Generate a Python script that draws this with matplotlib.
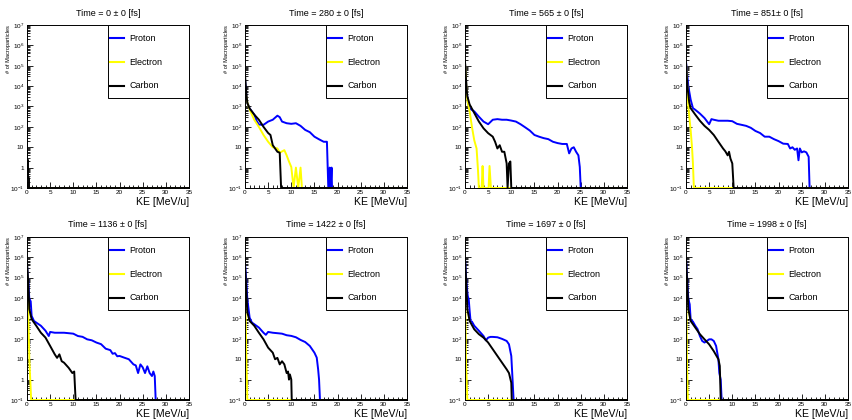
import numpy as np
import matplotlib.pyplot as plt
from matplotlib.ticker import FixedLocator, MultipleLocator, LogLocator, NullFormatter

# ROOT style look: Helvetica-like font
plt.rcParams['font.family'] = 'Liberation Sans'
plt.rcParams['mathtext.fontset'] = 'custom'
plt.rcParams['mathtext.rm'] = 'Liberation Sans'
plt.rcParams['mathtext.it'] = 'Liberation Sans:italic'

times = ['0 ± 0', '280 ± 0', '565 ± 0', '851± 0', '1136 ± 0', '1422 ± 0', '1697 ± 0', '1998 ± 0']
species = ['Proton', 'Electron', 'Carbon']
colors = ['#0000ff', '#ffff00', '#000000']

xticks = [0, 5, 10, 15, 20, 25, 30, 35]
yticks = [0.1, 1, 10, 1e2, 1e3, 1e4, 1e5, 1e6, 1e7]
ytick_labels = [r'$10^{-1}$', '1', '10', r'$10^{2}$', r'$10^{3}$', r'$10^{4}$',
                r'$10^{5}$', r'$10^{6}$', r'$10^{7}$']

# (KE [MeV/u], number of macroparticles); 0.1 = empty bin (drawn on the axis)
proton_0 = [(0, 0.1), (35, 0.1)]
electron_0 = [(0, 0.1), (35, 0.1)]
carbon_0 = [(0, 2500), (0.1, 2500), (0.1, 2.5), (0.25, 2.5), (0.25, 0.3), (0.5, 0.3), (0.5, 0.1), (35, 0.1)]

proton_280 = [(0, 2e4), (0.3, 3000), (0.5, 1500), (1, 800), (2, 400), (2.5, 200), (3, 130), (4, 126),
              (5, 182), (6, 224), (7, 355), (7.5, 300), (8, 182), (9, 151), (10, 141), (11, 151),
              (12, 112), (13, 71), (14, 55), (15, 33), (16, 24.5), (17, 18.6), (17.7, 18.6),
              (18.0, 0.1), (18.3, 1), (18.5, 0.1), (18.7, 1), (18.8, 0.1), (35, 0.1)]
electron_280 = [(0, 8000), (0.5, 1600), (1, 710), (2, 224), (3, 100), (4, 40), (5, 18.6), (6, 10),
                (7, 8.7), (7.5, 5.4), (8.5, 7.2), (9, 4), (9.5, 2), (10, 1.07), (10.5, 0.1), (11, 1),
                (11.5, 0.1), (12, 1), (12.3, 0.1), (35, 0.1)]
carbon_280 = [(0, 3.7e4), (0.3, 4000), (0.5, 1500), (1, 800), (2, 400), (3, 224), (4, 100), (5, 50),
              (5.5, 40), (6, 12.6), (6.5, 8.7), (7, 6), (7.5, 5.4), (7.8, 0.1), (35, 0.1)]

proton_565 = [(0, 1.4e5), (0.3, 1e4), (0.6, 1600), (1, 800), (2, 575), (3, 316), (4, 182), (5, 135),
              (6, 224), (7, 240), (8, 224), (9, 224), (10, 204), (11, 182), (12, 135), (13, 95),
              (14, 66), (15, 40), (16, 33), (17, 28), (18, 25), (19, 18.6), (20, 16), (21, 14.5),
              (22, 14.5), (22.5, 5), (23, 8.7), (23.5, 10), (24, 6), (24.5, 4), (24.8, 1.07),
              (25, 0.1), (35, 0.1)]
electron_565 = [(0, 1.4e5), (0.3, 1e4), (0.5, 2000), (1, 575), (1.5, 100), (2, 22), (2.5, 8.7),
                (2.8, 0.8), (3, 0.1), (3.6, 0.1), (3.8, 1.2), (4, 0.1), (5.1, 0.1), (5.3, 1.2),
                (5.6, 0.1), (35, 0.1)]
carbon_565 = [(0, 1.6e5), (0.3, 1e4), (0.5, 3200), (1, 1260), (2, 480), (3, 182), (4, 85), (5, 49),
              (6, 33), (6.5, 18.6), (7, 8.7), (7.5, 12.6), (8, 6), (8.5, 6), (9, 1.6), (9.2, 0.1),
              (9.5, 1.6), (9.8, 2), (10, 0.1), (35, 0.1)]

proton_851 = [(0, 1.6e5), (0.5, 1e4), (1, 2200), (1.5, 830), (2, 690), (3, 450), (4, 270), (5, 135),
              (5.5, 240), (6, 224), (7, 200), (8, 200), (9, 200), (10, 190), (11, 141), (12, 126),
              (13, 112), (14, 90), (15, 63), (16, 50), (17, 33), (18, 33), (19, 25), (20, 20),
              (21, 15), (22, 14.5), (22.5, 8.7), (23, 10), (23.5, 7.5), (24, 8.7), (24.3, 2.3),
              (24.6, 8.7), (25, 5.6), (25.5, 6.3), (26, 5.6), (26.5, 3.4), (26.7, 0.1), (35, 0.1)]
electron_851 = [(0, 1.4e5), (0.3, 8000), (0.5, 1000), (1, 71), (1.3, 10), (1.5, 1.6), (1.7, 0.1), (35, 0.1)]
carbon_851 = [(0, 1.4e5), (0.3, 1e4), (0.7, 1600), (1, 830), (2, 400), (3, 200), (4, 112), (5, 71),
              (6, 40), (7, 18.6), (8, 8.7), (8.5, 6.3), (9, 4), (9.3, 6), (9.6, 2.8), (10, 1.6),
              (10.3, 0.1), (35, 0.1)]

proton_1136 = [(0, 4e5), (0.3, 6e4), (0.5, 9000), (0.8, 7000), (1, 1350), (1.5, 760), (2, 630),
               (3, 440), (4, 250), (4.7, 138), (5, 219), (6, 200), (7, 200), (8, 200), (9, 190),
               (10, 180), (11, 138), (12, 126), (13, 95), (14, 85), (15, 66), (16, 55), (17, 33),
               (18, 28), (18.5, 18.6), (19, 20), (19.5, 14), (20, 14.5), (21, 12), (22, 10),
               (23, 5.6), (23.5, 5), (24, 2.1), (24.5, 5.6), (25, 4), (25.5, 2.1), (26, 4.5),
               (26.5, 2.1), (27, 1.5), (27.3, 2.5), (27.6, 1.5), (27.8, 0.1), (35, 0.1)]
electron_1136 = [(0, 4e5), (0.3, 1260), (0.5, 10), (0.7, 1), (0.9, 0.1), (35, 0.1)]
carbon_1136 = [(0, 5.9e5), (0.3, 4e4), (0.5, 2900), (1, 930), (2, 440), (3, 200), (4, 115), (5, 45),
               (6, 17.4), (6.5, 11.7), (7, 17.4), (7.5, 8), (8, 6.8), (9, 3.8), (9.8, 2.1),
               (10.2, 2.5), (10.5, 0.1), (35, 0.1)]

proton_1422 = [(0, 5e5), (0.3, 6e4), (0.5, 9000), (1, 1100), (1.5, 630), (2, 525), (3, 360),
               (4, 200), (4.5, 158), (5, 219), (6, 200), (7, 190), (8, 180), (9, 151), (10, 140),
               (11, 120), (12, 89), (13, 70), (14, 45), (15, 21), (15.5, 12), (15.8, 3.2), (16, 1),
               (16.2, 0.1), (35, 0.1)]
electron_1422 = [(0, 2.5e5), (0.2, 200), (0.3, 10), (0.5, 0.1), (35, 0.1)]
carbon_1422 = [(0, 4e5), (0.3, 2e4), (0.5, 2000), (1, 760), (2, 440), (3, 200), (4, 95), (5, 37),
               (6, 21), (6.5, 10), (7, 11.7), (7.5, 5.6), (8, 8), (8.5, 5.6), (9, 2.1), (9.3, 2.5),
               (9.5, 1), (9.7, 1.8), (10, 1), (10.1, 0.1), (35, 0.1)]

proton_1697 = [(0, 8.5e5), (0.3, 6e4), (0.6, 1.26e4), (0.8, 9000), (1, 2400), (1.2, 760), (1.5, 700),
               (2, 440), (3, 250), (4, 138), (4.5, 85), (5, 115), (5.5, 125), (6, 125), (7, 120),
               (8, 100), (9, 79), (9.5, 54), (10, 14.5), (10.2, 2.1), (10.5, 0.1), (35, 0.1)]
electron_1697 = [(0, 5.9e5), (0.2, 10), (0.4, 0.5), (0.5, 0.1), (35, 0.1)]
carbon_1697 = [(0, 8.5e5), (0.3, 4e4), (0.5, 2900), (1, 760), (2, 295), (3, 170), (4, 115), (5, 66),
               (6, 31), (7, 14.5), (8, 6.8), (9, 3.2), (9.5, 2.1), (10, 0.7), (10.1, 0.1), (35, 0.1)]

proton_1998 = [(0, 8.5e5), (0.3, 6e4), (0.5, 9000), (0.8, 5000), (1, 930), (1.5, 700), (2, 440),
               (2.5, 300), (3, 138), (3.5, 79), (4, 66), (4.5, 79), (5, 95), (5.5, 95), (6, 79),
               (6.5, 45), (7, 10), (7.2, 2.1), (7.5, 1), (7.7, 0.1), (35, 0.1)]
electron_1998 = [(0, 5.9e5), (0.2, 10), (0.4, 0.1), (35, 0.1)]
carbon_1998 = [(0, 8.5e5), (0.3, 4e4), (0.5, 2900), (1, 760), (2, 360), (3, 170), (4, 95), (5, 54),
               (6, 25), (7, 10), (7.3, 4.7), (7.5, 0.1), (35, 0.1)]

panels = [
    (proton_0, electron_0, carbon_0),
    (proton_280, electron_280, carbon_280),
    (proton_565, electron_565, carbon_565),
    (proton_851, electron_851, carbon_851),
    (proton_1136, electron_1136, carbon_1136),
    (proton_1422, electron_1422, carbon_1422),
    (proton_1697, electron_1697, carbon_1697),
    (proton_1998, electron_1998, carbon_1998),
]

W, H = 852, 420
fig = plt.figure(figsize=(W / 100, H / 100), dpi=100)

lefts = [27, 245, 465, 686]
tops = [25, 237]
fw, fh = 162, 163

for i, (t, curves) in enumerate(zip(times, panels)):
    row, col = divmod(i, 4)
    ax = fig.add_axes([lefts[col] / W, 1 - (tops[row] + fh) / H, fw / W, fh / H])

    for data, c in zip(curves, colors):
        arr = np.array(data)
        ax.plot(arr[:, 0], arr[:, 1], color=c, lw=1.4)

    ax.set_yscale('log')
    ax.set_xlim(0, 35)
    ax.set_ylim(0.1, 1e7)
    ax.xaxis.set_major_locator(FixedLocator(xticks))
    ax.xaxis.set_minor_locator(MultipleLocator(1))
    ax.yaxis.set_major_locator(FixedLocator(yticks))
    ax.yaxis.set_minor_locator(LogLocator(base=10, subs=np.arange(2, 10)))
    ax.yaxis.set_minor_formatter(NullFormatter())
    ax.set_xticklabels([str(v) for v in xticks])
    ax.set_yticklabels(ytick_labels)
    ax.tick_params(which='both', direction='in', labelsize=4.6, width=0.6)
    ax.tick_params(axis='x', which='major', length=4, pad=1.5)
    ax.tick_params(axis='x', which='minor', length=2)
    ax.tick_params(axis='y', which='major', length=4, pad=2)
    ax.tick_params(axis='y', which='minor', length=2)
    for s in ax.spines.values():
        s.set_linewidth(0.7)

    # legend box in the top right corner, like TLegend
    ax.add_patch(plt.Rectangle((0.5, 0.55), 0.5, 0.45, transform=ax.transAxes,
                               fc='white', ec='black', lw=0.7, zorder=5, clip_on=False))
    for k, (name, c) in enumerate(zip(species, colors)):
        yy = 0.92 - 0.147 * k
        ax.plot([0.515, 0.60], [yy, yy], transform=ax.transAxes, color=c, lw=1.5, zorder=6)
        ax.text(0.63, yy, name, transform=ax.transAxes, va='center', fontsize=6.5, zorder=6)

    ax.text(0.5, 1 + 12 / fh, 'Time = ' + t + ' [fs]', transform=ax.transAxes,
            ha='center', va='center', fontsize=6.5)
    ax.text(1.0, -14 / fh, 'KE [MeV/u]', transform=ax.transAxes,
            ha='right', va='center', fontsize=7.6)
    ax.text(-0.115, 1.0, '# of Macroparticles', transform=ax.transAxes,
            rotation=90, ha='center', va='top', fontsize=4.1)

fig.savefig('out.png', dpi=100)
